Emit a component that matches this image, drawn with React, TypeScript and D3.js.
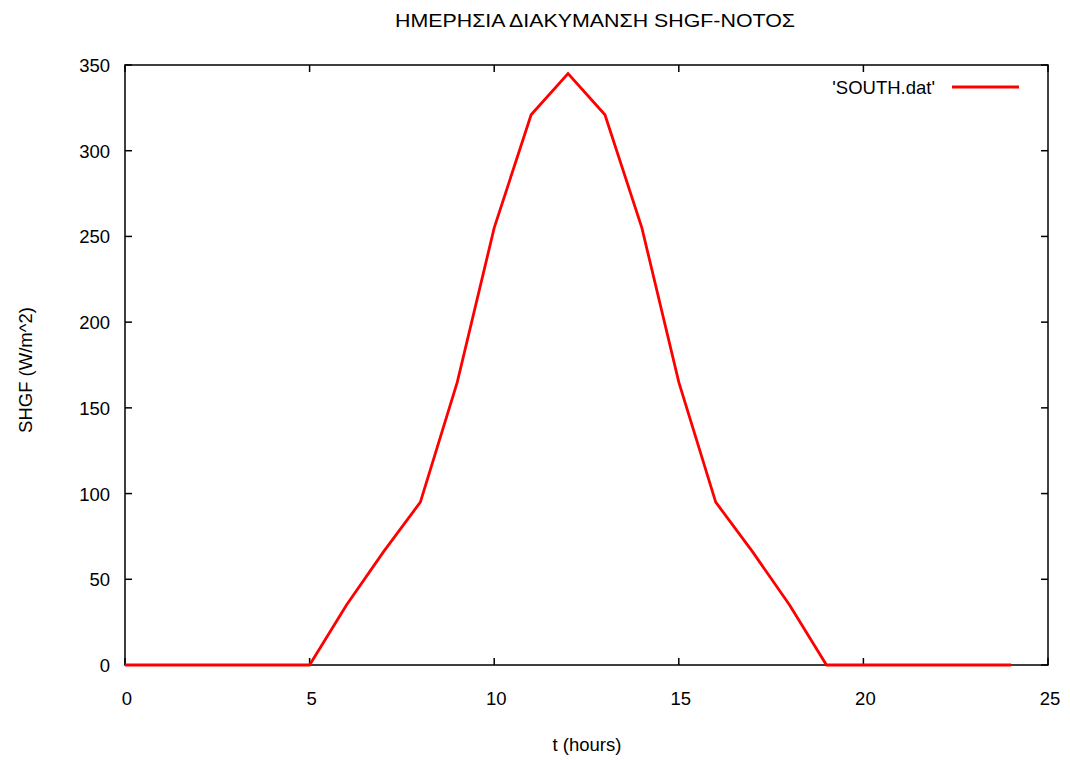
import React from "react";
import * as d3 from "d3";

const hours = [0,1,2,3,4,5,6,7,8,9,10,11,12,13,14,15,16,17,18,19,20,21,22,23,24];
const shgf = [0,0,0,0,0,0,35,66,95,165,255,321,345,321,255,165,95,66,35,0,0,0,0,0,0];
const xTicks = [0,5,10,15,20,25];
const yTicks = [0,50,100,150,200,250,300,350];
const title = "ΗΜΕΡΗΣΙΑ ΔΙΑΚΥΜΑΝΣΗ SHGF-ΝΟΤΟΣ";
const xLabel = "t (hours)";
const yLabel = "SHGF (W/m^2)";
const legendLabel = "'SOUTH.dat'";

export default function App() {
  const W = 1070, H = 760;
  const left = 125, right = 1048, top = 65, bottom = 665;
  const x = d3.scaleLinear().domain([0, 25]).range([left, right]);
  const y = d3.scaleLinear().domain([0, 350]).range([bottom, top]);
  const line = d3.line<number>().x((_, i) => x(hours[i])).y((d) => y(d));
  const font = "'Liberation Sans', Arial, sans-serif";
  const tl = 7;
  const fs = 18.5;
  return (
    <svg width={W} height={H} style={{ position: "absolute", left: 0, top: 0 }} fontFamily={font}>
      <rect width={W} height={H} fill="white" />
      <text x={595} y={27} textAnchor="middle" fontSize={fs} textLength={400} lengthAdjust="spacingAndGlyphs">{title}</text>
      {xTicks.map((t) => (
        <g key={"x" + t}>
          <line x1={x(t)} x2={x(t)} y1={bottom} y2={bottom - tl} stroke="black" strokeWidth={1.5} />
          <line x1={x(t)} x2={x(t)} y1={top} y2={top + tl} stroke="black" strokeWidth={1.5} />
          <text x={x(t) + 2} y={705} textAnchor="middle" fontSize={fs}>{t}</text>
        </g>
      ))}
      {yTicks.map((t) => (
        <g key={"y" + t}>
          <line x1={left} x2={left + tl} y1={y(t)} y2={y(t)} stroke="black" strokeWidth={1.5} />
          <line x1={right} x2={right - tl} y1={y(t)} y2={y(t)} stroke="black" strokeWidth={1.5} />
          <text x={110} y={y(t) + 7} textAnchor="end" fontSize={fs}>{t}</text>
        </g>
      ))}
      <rect x={left} y={top} width={right - left} height={bottom - top} fill="none" stroke="black" strokeWidth={1.5} />
      <text x={587} y={751} textAnchor="middle" fontSize={fs}>{xLabel}</text>
      <text transform={`translate(32,370) rotate(-90)`} textAnchor="middle" fontSize={fs}>{yLabel}</text>
      <path d={line(shgf) || ""} fill="none" stroke="#ff0000" strokeWidth={2.8} strokeLinejoin="miter" />
      <text x={935} y={94} textAnchor="end" fontSize={fs}>{legendLabel}</text>
      <line x1={952} x2={1019} y1={87} y2={87} stroke="#ff0000" strokeWidth={2.8} />
    </svg>
  );
}
